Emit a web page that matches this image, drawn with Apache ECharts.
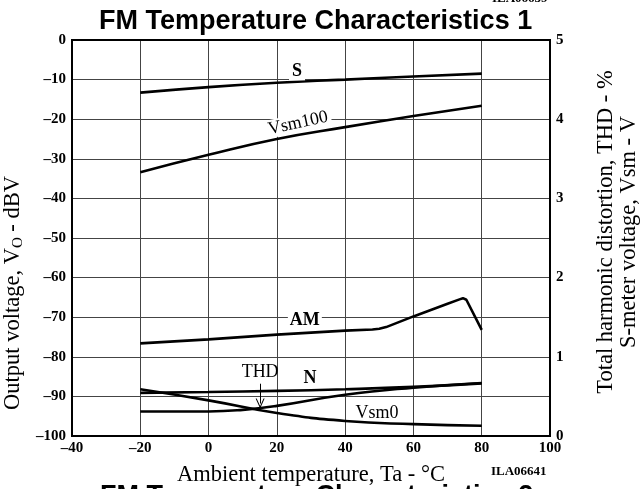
<!DOCTYPE html>
<html><head><meta charset="utf-8">
<script src="https://cdn.jsdelivr.net/npm/echarts@6/dist/echarts.min.js"></script>
<style>html,body{margin:0;padding:0;background:#fff}#c{width:644px;height:489px}</style>
</head><body><div id="c"></div>
<script>
// Temperatures (°C)
const temps = [-20, 0, 20, 40, 60, 80];
const thdTemps = [-20, 0, 10, 20, 40, 60, 80];
const amTemps = [-20, 0, 20, 40, 48, 50, 52, 60, 70, 73.5, 74.5, 75.5, 80];
// Left axis series (dBV)
const sOut = [-13.3, -11.9, -10.8, -10.0, -9.2, -8.5];
const nOut = [-89.1, -88.9, -88.6, -88.2, -87.6, -86.7];
const amOut = [-76.6, -75.6, -74.4, -73.4, -73.1, -72.9, -72.5, -69.8, -66.6, -65.5, -65.2, -65.6, -73.2];
// Right axis series (V, %)
const vsm100 = [3.33, 3.55, 3.75, 3.90, 4.04, 4.17];
const vsm0 = [0.59, 0.45, 0.29, 0.19, 0.15, 0.13];
const thd = [0.31, 0.31, 0.33, 0.38, 0.52, 0.61, 0.67];
// Tick settings
const xTicks = {min: -40, max: 100, step: 20};
const leftTicks = {min: -100, max: 0, step: 10};
const rightTicks = {min: 0, max: 5, step: 1};

const zip = (xs, ys) => xs.map((x, i) => [x, ys[i]]);
const serif = 'Liberation Serif';
const dash = v => String(v).replace('-', '\u2013');

const lineStyle = {color: '#000', width: 2.6};
function lbl(text, coord, opts) {
  return {
    coord: coord, symbol: 'circle', symbolSize: 0,
    label: Object.assign({show: true, position: 'inside', formatter: text, color: '#000',
      fontFamily: serif, fontSize: 18, fontWeight: 'bold'}, opts || {})
  };
}
function mk(name, xs, ys, yIdx, smooth, marks, extra) {
  return Object.assign({
    type: 'line', name: name, data: zip(xs, ys), yAxisIndex: yIdx, smooth: smooth,
    showSymbol: false, lineStyle: lineStyle, itemStyle: {color: '#000'},
    markPoint: marks ? {silent: true, data: marks, animation: false} : undefined,
    z: 3
  }, extra || {});
}

const chart = echarts.init(document.getElementById('c'), null, {renderer: 'canvas'});
chart.setOption({
  animation: false,
  backgroundColor: '#fff',
  title: {
    text: 'FM Temperature Characteristics 1', left: 94, top: 3,
    textStyle: {fontFamily: 'Liberation Sans', fontWeight: 'bold', fontSize: 27, color: '#000'}
  },
  graphic: [
    {type: 'text', left: 100, top: 483, style: {text: 'FM Temperature Characteristics 2',
      fontFamily: 'Liberation Sans', fontWeight: 'bold', fontSize: 27, fill: '#000'}},
    {type: 'text', left: 492, top: -8, style: {text: 'ILA06639',
      fontFamily: serif, fontWeight: 'bold', fontSize: 13, fill: '#000'}},
    {type: 'text', left: 491, top: 465, style: {text: 'ILA06641',
      fontFamily: serif, fontWeight: 'bold', fontSize: 13, fill: '#000'}}
  ],
  grid: {left: 72, right: 94, top: 40, bottom: 53, containLabel: false, outerBoundsMode: 'none',
    show: true, borderColor: '#000', borderWidth: 2, backgroundColor: 'transparent', z: 4},
  xAxis: {
    type: 'value', min: xTicks.min, max: xTicks.max, interval: xTicks.step,
    axisLine: {show: false}, axisTick: {show: false},
    splitLine: {show: true, lineStyle: {color: '#444', width: 1}},
    axisLabel: {formatter: dash, fontFamily: serif, fontWeight: 'bold', fontSize: 15, color: '#000', margin: 5},
    name: 'Ambient temperature, Ta - °C', nameLocation: 'middle', nameGap: 28,
    nameTextStyle: {fontFamily: serif, fontSize: 22.5, color: '#000'}
  },
  yAxis: [{
    type: 'value', min: leftTicks.min, max: leftTicks.max, interval: leftTicks.step,
    axisLine: {show: false}, axisTick: {show: false},
    splitLine: {show: true, lineStyle: {color: '#444', width: 1}},
    axisLabel: {formatter: dash, fontFamily: serif, fontWeight: 'bold', fontSize: 15, color: '#000', margin: 6},
    name: 'Output voltage, V{sub|O} - dBV', nameLocation: 'middle', nameGap: 43, nameRotate: 90,
    nameTextStyle: {fontFamily: serif, fontSize: 22.5, color: '#000', padding: [0, 110, 0, 0],
      rich: {sub: {fontFamily: serif, fontSize: 15, color: '#000', verticalAlign: 'bottom', padding: [9, 0, 0, 0]}}}
  }, {
    type: 'value', position: 'right', min: rightTicks.min, max: rightTicks.max, interval: rightTicks.step,
    axisLine: {show: false}, axisTick: {show: false}, splitLine: {show: false},
    axisLabel: {fontFamily: serif, fontWeight: 'bold', fontSize: 15, color: '#000', margin: 6},
    name: 'Total harmonic distortion, THD - %\nS-meter voltage, Vsm - V', nameLocation: 'middle', nameGap: 45, nameRotate: 90,
    nameTextStyle: {fontFamily: serif, fontSize: 22.5, color: '#000', lineHeight: 23, padding: [0, 0, 0, 12]}
  }],
  series: [
    mk('S', temps, sOut, 0, true, [lbl('S', [25.9, -7.9], {backgroundColor: '#fff', padding: [0, 3]})]),
    mk('Vsm100', temps, vsm100, 1, true, [lbl('Vsm100', [26.2, 3.95], {fontWeight: 'normal', rotate: 12, backgroundColor: '#fff', padding: [0, 3]})]),
    mk('AM', amTemps, amOut, 0, false, [lbl('AM', [28.2, -70.7], {backgroundColor: '#fff', padding: [0, 2]})]),
    mk('N', temps, nOut, 0, true, [lbl('N', [29.7, -85.4])]),
    mk('Vsm0', temps, vsm0, 1, true, [lbl('Vsm0', [49.3, 0.29], {fontWeight: 'normal'})]),
    mk('THD', thdTemps, thd, 1, true, [lbl('THD', [15.1, 0.80], {fontWeight: 'normal'})], {
      markLine: {silent: true, animation: false, symbol: ['none', 'path://M5,0 L10,9 L8.8,9 L5,2.2 L1.2,9 L0,9 Z'], symbolSize: [9, 10],
        label: {show: false}, lineStyle: {color: '#000', width: 1, type: 'solid'},
        data: [[{coord: [15.1, 0.66]}, {coord: [15.1, 0.41]}]]}
    })
  ]
});
</script></body></html>
